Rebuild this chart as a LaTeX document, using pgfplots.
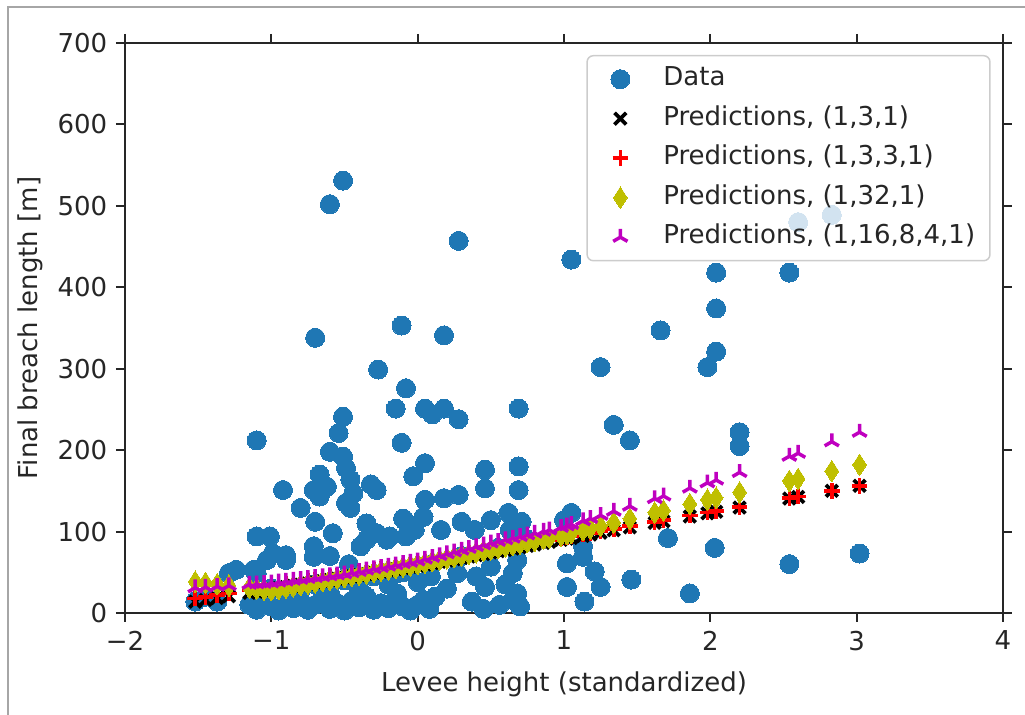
\documentclass[border=0pt]{standalone}
\usepackage{fontspec}
\setmainfont{DejaVu Sans}
\usepackage{pgfplots}
\usepackage{pgfplotstable}
\pgfplotsset{compat=1.18}
\usetikzlibrary{plotmarks}
\definecolor{mplblue}{HTML}{1F77B4}
\definecolor{mply}{rgb}{0.75,0.75,0}
\definecolor{mplm}{rgb}{0.75,0,0.75}
\newcommand{\lf}{\fontsize{10.4pt}{12.5pt}\selectfont}

\pgfplotstableread{
x y
-1.52 14
-1.37 14
-1.45 20
-1.29 49
-1.24 53
-1.12 53
-1.10 49
-1.10 212
-1.10 94
-1.01 94
-1.03 65
-0.90 65
-0.99 73
-0.90 71
-0.92 151
-0.80 129
-0.71 151
-0.71 82
-0.71 69
-0.70 112
-0.70 338
-0.67 170
-0.67 143
-0.62 155
-0.60 502
-0.60 198
-0.58 98
-0.54 221
-0.51 531
-0.51 241
-0.51 192
-0.49 178
-0.49 135
-0.46 164
-0.46 129
-0.44 147
-0.39 82
-0.35 110
-0.35 90
-0.32 158
-0.28 151
-0.28 98
-0.27 299
-0.21 90
-0.19 94
-0.15 251
-0.14 49
-0.14 24
-0.10 116
-0.11 353
-0.11 209
-0.09 114
-0.08 276
-0.08 94
-0.03 168
-0.02 102
0.04 118
0.05 251
0.05 184
0.05 139
0.10 244
0.16 102
0.18 341
0.18 251
0.18 141
0.28 457
0.28 238
0.28 145
0.30 112
0.39 102
0.46 176
0.46 153
0.50 114
0.62 123
0.63 102
0.69 251
0.69 180
0.69 151
0.71 112
0.68 65
0.65 49
0.50 57
0.09 45
0.27 49
0.46 32
0.68 24
0.04 16
0.37 14
0.56 10
0.65 16
0.45 5
0.70 8
-0.10 8
1.00 114
1.05 123
1.05 434
1.02 61
1.02 32
1.13 82
1.13 69
1.14 14
1.21 51
1.25 32
1.25 302
1.34 231
1.45 212
1.46 41
1.66 347
1.71 92
1.86 24
1.98 302
2.03 80
2.04 418
2.04 374
2.04 321
2.20 222
2.20 205
2.54 418
2.54 60
2.60 480
2.83 489
3.02 73
-1.15 10
-1.10 4
-1.05 15
-1.00 8
-0.95 3
-0.90 12
-0.85 6
-0.80 15
-0.75 4
-0.70 10
-0.65 18
-0.60 5
-0.55 12
-0.50 3
-0.45 15
-0.40 7
-0.35 20
-0.30 4
-0.25 12
-0.20 6
-0.15 15
-0.05 3
0.00 10
0.08 5
0.12 20
-1.10 25
-1.00 30
-0.90 22
-0.80 28
-0.70 35
-0.60 25
-0.60 70
-0.50 40
-0.47 60
-0.40 30
-0.30 45
-0.20 35
-0.10 50
0.00 38
0.10 60
0.20 30
0.30 70
0.40 45
0.55 80
0.60 35
0.75 90
}\datatable

\pgfplotstableread{
x B R Y M
-1.52 13.9 17.7 38.4 31.0
-1.45 15.9 19.7 37.0 31.8
-1.37 18.3 22.0 35.4 32.7
-1.29 20.6 24.2 33.8 33.6
-1.15 24.7 28.2 31.0 35.3
-1.10 26.1 29.7 30.0 35.9
-1.05 27.6 31.1 29.0 36.4
-1.00 29.0 32.5 28.0 37.0
-0.95 30.5 33.9 29.6 38.1
-0.90 31.9 35.4 31.2 39.2
-0.85 33.4 36.8 32.8 40.3
-0.80 34.8 38.2 34.4 41.4
-0.75 36.3 39.6 36.0 42.5
-0.70 37.7 41.1 37.6 43.6
-0.65 39.2 42.5 39.2 44.7
-0.60 40.6 43.9 40.8 45.8
-0.55 42.1 45.3 42.4 46.9
-0.50 43.5 46.8 44.0 48.0
-0.45 45.0 48.2 45.6 49.6
-0.40 46.4 49.6 47.2 51.2
-0.35 47.9 51.0 48.8 52.8
-0.30 49.3 52.5 50.4 54.4
-0.25 50.8 53.9 52.0 56.0
-0.20 52.2 55.3 53.6 57.6
-0.15 53.7 56.7 55.2 59.2
-0.10 55.1 58.2 56.8 60.8
-0.05 56.6 59.6 58.4 62.4
0.00 58.0 61.0 60.0 64.0
0.05 59.6 62.6 61.8 66.2
0.10 61.3 64.2 63.6 68.4
0.15 62.9 65.7 65.4 70.6
0.20 64.5 67.3 67.2 72.8
0.25 66.1 68.9 69.0 75.0
0.30 67.8 70.5 70.8 77.2
0.35 69.4 72.0 72.6 79.4
0.40 71.0 73.6 74.4 81.6
0.45 72.6 75.2 76.2 83.8
0.50 74.3 76.8 78.0 86.0
0.55 75.9 78.3 79.8 88.0
0.60 77.5 79.9 81.6 90.0
0.65 79.1 81.5 83.4 92.0
0.70 80.8 83.1 85.2 94.0
0.75 82.4 84.6 87.0 96.0
0.80 84.0 86.2 88.8 98.0
0.86 86.0 88.1 91.0 100.4
0.90 87.3 89.4 92.4 102.0
0.98 89.9 91.9 95.3 105.2
1.02 91.2 93.1 96.9 107.1
1.05 92.1 94.1 98.2 108.8
1.13 94.7 96.6 101.7 113.3
1.18 96.4 98.2 103.9 116.1
1.25 98.6 100.4 107.0 120.0
1.34 101.6 103.2 111.0 125.0
1.45 105.1 106.7 115.8 131.2
1.62 110.7 112.0 123.3 140.5
1.68 112.6 113.9 125.9 143.7
1.86 118.5 119.6 133.8 153.4
1.98 122.4 123.4 139.1 159.9
2.04 124.3 125.3 141.6 163.3
2.20 129.5 130.3 148.2 172.6
2.54 140.6 141.0 162.2 192.5
2.60 142.5 142.9 164.7 196.2
2.83 150.0 150.1 174.2 210.3
3.02 156.2 156.1 182.0 222.0
}\predtable

\begin{document}
\begin{tikzpicture}
\useasboundingbox (0,0) rectangle (410pt,286pt);
\draw[black!35, line width=0.8pt] (3.2pt,0pt) -- (3.2pt,283.2pt) -- (410pt,283.2pt);
\begin{axis}[
  at={(50pt,40.8pt)}, anchor=south west,
  scale only axis, width=351.2pt, height=228pt,
  xmin=-2, xmax=4, ymin=0, ymax=700,
  xtick={-2,-1,0,1,2,3,4}, xticklabels={−2,−1,0,1,2,3,4},
  ytick={0,100,200,300,400,500,600,700},
  yticklabels={0,100,200,300,400,500,600,700},
  tick align=outside, major tick length=3.6pt,
  tick style={black!85, line width=0.8pt},
  axis line style={black!85, line width=0.8pt},
  tick label style={font=\lf, text=black!85},
  label style={font=\lf, text=black!85},
  xlabel={Levee height (standardized)},
  ylabel={Final breach length [m]},
  xlabel style={at={(axis description cs:0.5,-0.1246)}, anchor=center},
  ylabel style={at={(axis description cs:-0.108,0.5)}, anchor=center},
  legend cell align=left,
  legend style={at={(0.986,0.979)}, anchor=north east, draw=black!20, line width=0.6pt,
    rounded corners=2.5pt, fill=white, fill opacity=0.8, draw opacity=1, text opacity=1,
    font=\lf, text=black!85, inner xsep=3pt, inner ysep=1.5pt, row sep=0pt,
    nodes={inner sep=2.9pt, text height=7.6pt, text depth=2.4pt}},
  legend image code/.code={\path (0pt,0pt) (24pt,0pt); \draw[#1, fill opacity=1, draw opacity=1] plot coordinates {(10pt,0pt)};},
]
\addplot[only marks, mark=*, mark size=3.8pt, color=mplblue, mark options={line width=0pt}] table[x=x,y=y] {\datatable};
\addlegendentry{Data}
\addplot[only marks, mark=x, mark size=3.3pt, color=black, mark options={line width=1.5pt}] table[x=x,y=B] {\predtable};
\addlegendentry{Predictions, (1,3,1)}
\addplot[only marks, mark=+, mark size=3.1pt, color=red, mark options={line width=1.4pt}] table[x=x,y=R] {\predtable};
\addlegendentry{Predictions, (1,3,3,1)}
\addplot[only marks, mark=diamond*, mark size=4.3pt, color=mply, mark options={xscale=0.85, line width=0pt}] table[x=x,y=Y] {\predtable};
\addlegendentry{Predictions, (1,32,1)}
\addplot[only marks, mark=Mercedes star, mark size=3.3pt, color=mplm, mark options={line width=1.4pt}] table[x=x,y=M] {\predtable};
\addlegendentry{Predictions, (1,16,8,4,1)}
\end{axis}
\end{tikzpicture}
\end{document}
